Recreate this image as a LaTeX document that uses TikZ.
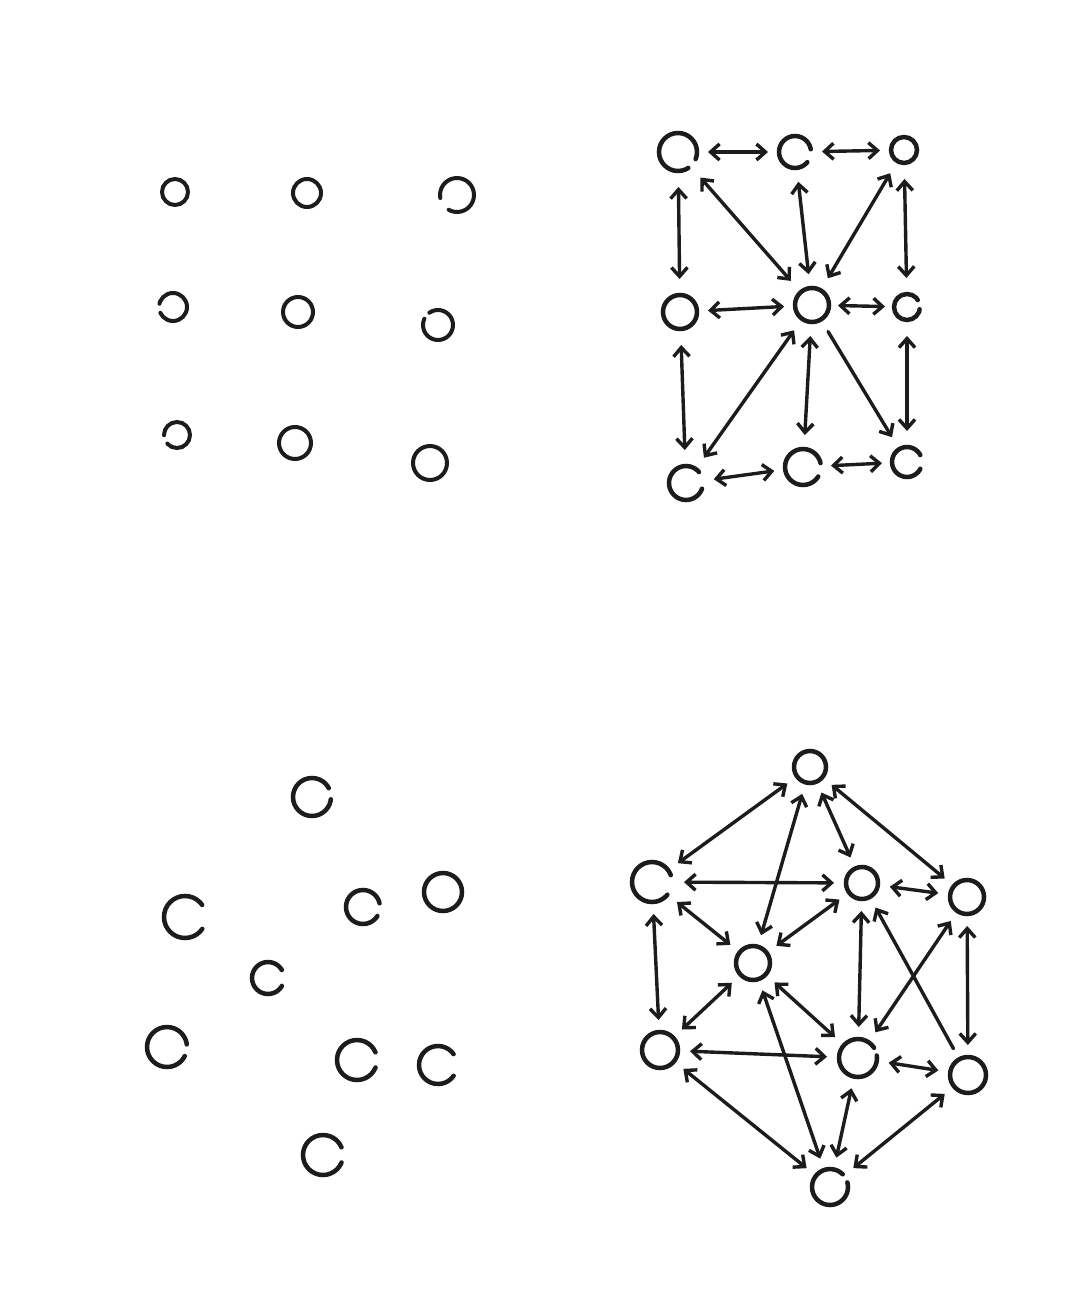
\documentclass[tikz,border=0pt]{standalone}
\usetikzlibrary{arrows.meta}
\definecolor{ink}{HTML}{1C1C1C}
\tikzset{
  ring/.style={circle, draw=ink, line width=4.5pt, inner sep=0pt, outer sep=0pt, line cap=round},
  smallring/.style={line width=4pt},
  link/.style={draw=ink, line width=3.4pt, line cap=round, shorten <=#1, shorten >=#1},
  link/.default=12pt,
}
\newcommand\ringnode[5][]{%
  \pgfmathsetmacro\rgD{2*#5}%
  \node[ring,#1, minimum size=\rgD pt] (#2) at (#3,#4) {};}
\newcommand\gapnode[7][]{%
  \pgfmathsetmacro\rgD{2*#5}%
  \pgfmathsetmacro\rgC{2*pi*#5}%
  \pgfmathsetmacro\rgOff{(#7)/360*\rgC}%
  \pgfmathsetmacro\rgOn{\rgC-\rgOff}%
  \pgfmathsetmacro\rgPh{mod(720-(#6)-(#7)/2,360)/360*\rgC}%
  \node[ring,#1, minimum size=\rgD pt, dash pattern=on \rgOn pt off \rgOff pt, dash phase=\rgPh pt] (#2) at (#3,#4) {};}
\begin{document}
\begin{tikzpicture}[x=1pt,y=-1pt,>={Straight Barb[length=9pt,width=16pt]}]
\fill[white] (0,0) rectangle (1080,1297);
\useasboundingbox (0,0) rectangle (1080,1297);

% ---------- top-left: 3x3 unconnected ----------
\ringnode[smallring]{a1}{175}{192}{13}
\ringnode[smallring]{a2}{307}{193}{14}
\gapnode[smallring]{a3}{457}{195}{17}{215}{50}
\gapnode[smallring]{a4}{173}{307}{14}{185}{38}
\ringnode[smallring]{a5}{298}{312}{15}
\gapnode[smallring]{a6}{438}{325}{15}{140}{30}
\gapnode[smallring]{a7}{177}{435}{13}{200}{40}
\ringnode[smallring]{a8}{295}{443}{16}
\ringnode[smallring]{a9}{430}{463}{17}

% ---------- top-right: 3x3 grid connected ----------
\gapnode{b00}{678}{152}{19}{-40}{35}
\gapnode{b10}{795}{152}{16}{-15}{50}
\ringnode{b20}{904}{150}{13}
\ringnode{b01}{680}{312}{17}
\ringnode{b11}{812}{305}{17}
\gapnode{b21}{907}{307}{13}{10}{45}
\gapnode{b02}{686}{483}{17}{10}{60}
\gapnode{b12}{803}{467}{18}{-10}{45}
\gapnode{b22}{907}{462}{15}{0}{55}

\draw[link=11pt,<->] (b00) -- (b10);
\draw[link=11pt,<->] (b10) -- (b20);
\draw[link=11pt,<->] (b01) -- (b11);
\draw[link=9pt,<->] (b11) -- (b21);
\draw[link=11pt,<->] (b02) -- (b12);
\draw[link=10pt,<->] (b12) -- (b22);
\draw[link=16pt,<->] (b00) -- (b01);
\draw[link=16pt,<->] (b01) -- (b02);
\draw[link=16pt,<->] (b20) -- (b21);
\draw[link=16pt,<->] (b21) -- (b22);
\draw[link=15pt,<->] (b00) -- (b11);
\draw[link=14pt,<->] (b10) -- (b11);
\draw[link=14pt,<->] (b20) -- (b11);
\draw[link=14pt,<->] (b11) -- (b02);
\draw[link=14pt,<->] (b11) -- (b12);
\draw[link=14pt,->] (b11) -- (b22);

% ---------- bottom-left: scattered unconnected ----------
\gapnode{c1}{312}{797}{19}{10}{35}
\gapnode{c2}{185}{917}{21}{0}{70}
\gapnode{c3}{363}{907}{17}{-10}{45}
\ringnode{c4}{443}{892}{19}
\gapnode{c5}{268}{978}{16}{0}{60}
\gapnode{c6}{167}{1047}{20}{-10}{35}
\gapnode{c7}{357}{1060}{20}{0}{45}
\gapnode{c8}{438}{1065}{19}{0}{70}
\gapnode{c9}{323}{1155}{20}{0}{45}

% ---------- bottom-right: scattered, densely connected ----------
\ringnode{T}{810}{767}{16}
\gapnode{L}{652}{882}{20}{-10}{60}
\ringnode{M}{862}{883}{16}
\ringnode{R}{967}{897}{17}
\ringnode{C}{753}{963}{17}
\ringnode{BL}{660}{1050}{18}
\gapnode{BM}{858}{1058}{19}{20}{25}
\ringnode{BR}{968}{1075}{18}
\gapnode{B}{830}{1187}{18}{30}{30}

\draw[link,<->] (T) -- (L);
\draw[link,<->] (T) -- (C);
\draw[link,<->] (T) -- (M);
\draw[link,<->] (T) -- (R);
\draw[link,<->] (L) -- (M);
\draw[link,<->] (L) -- (C);
\draw[link,<->] (C) -- (M);
\draw[link,<->] (M) -- (R);
\draw[link,<->] (M) -- (BM);
\draw[link,->] (BR) -- (M);
\draw[link,<->] (R) -- (BM);
\draw[link,<->] (R) -- (BR);
\draw[link,<->] (L) -- (BL);
\draw[link,<->] (C) -- (BL);
\draw[link,<->] (C) -- (BM);
\draw[link,<->] (BL) -- (BM);
\draw[link,<->] (C) -- (B);
\draw[link,<->] (BL) -- (B);
\draw[link,<->] (BM) -- (B);
\draw[link,<->] (BM) -- (BR);
\draw[link,<->] (BR) -- (B);
\end{tikzpicture}
\end{document}
